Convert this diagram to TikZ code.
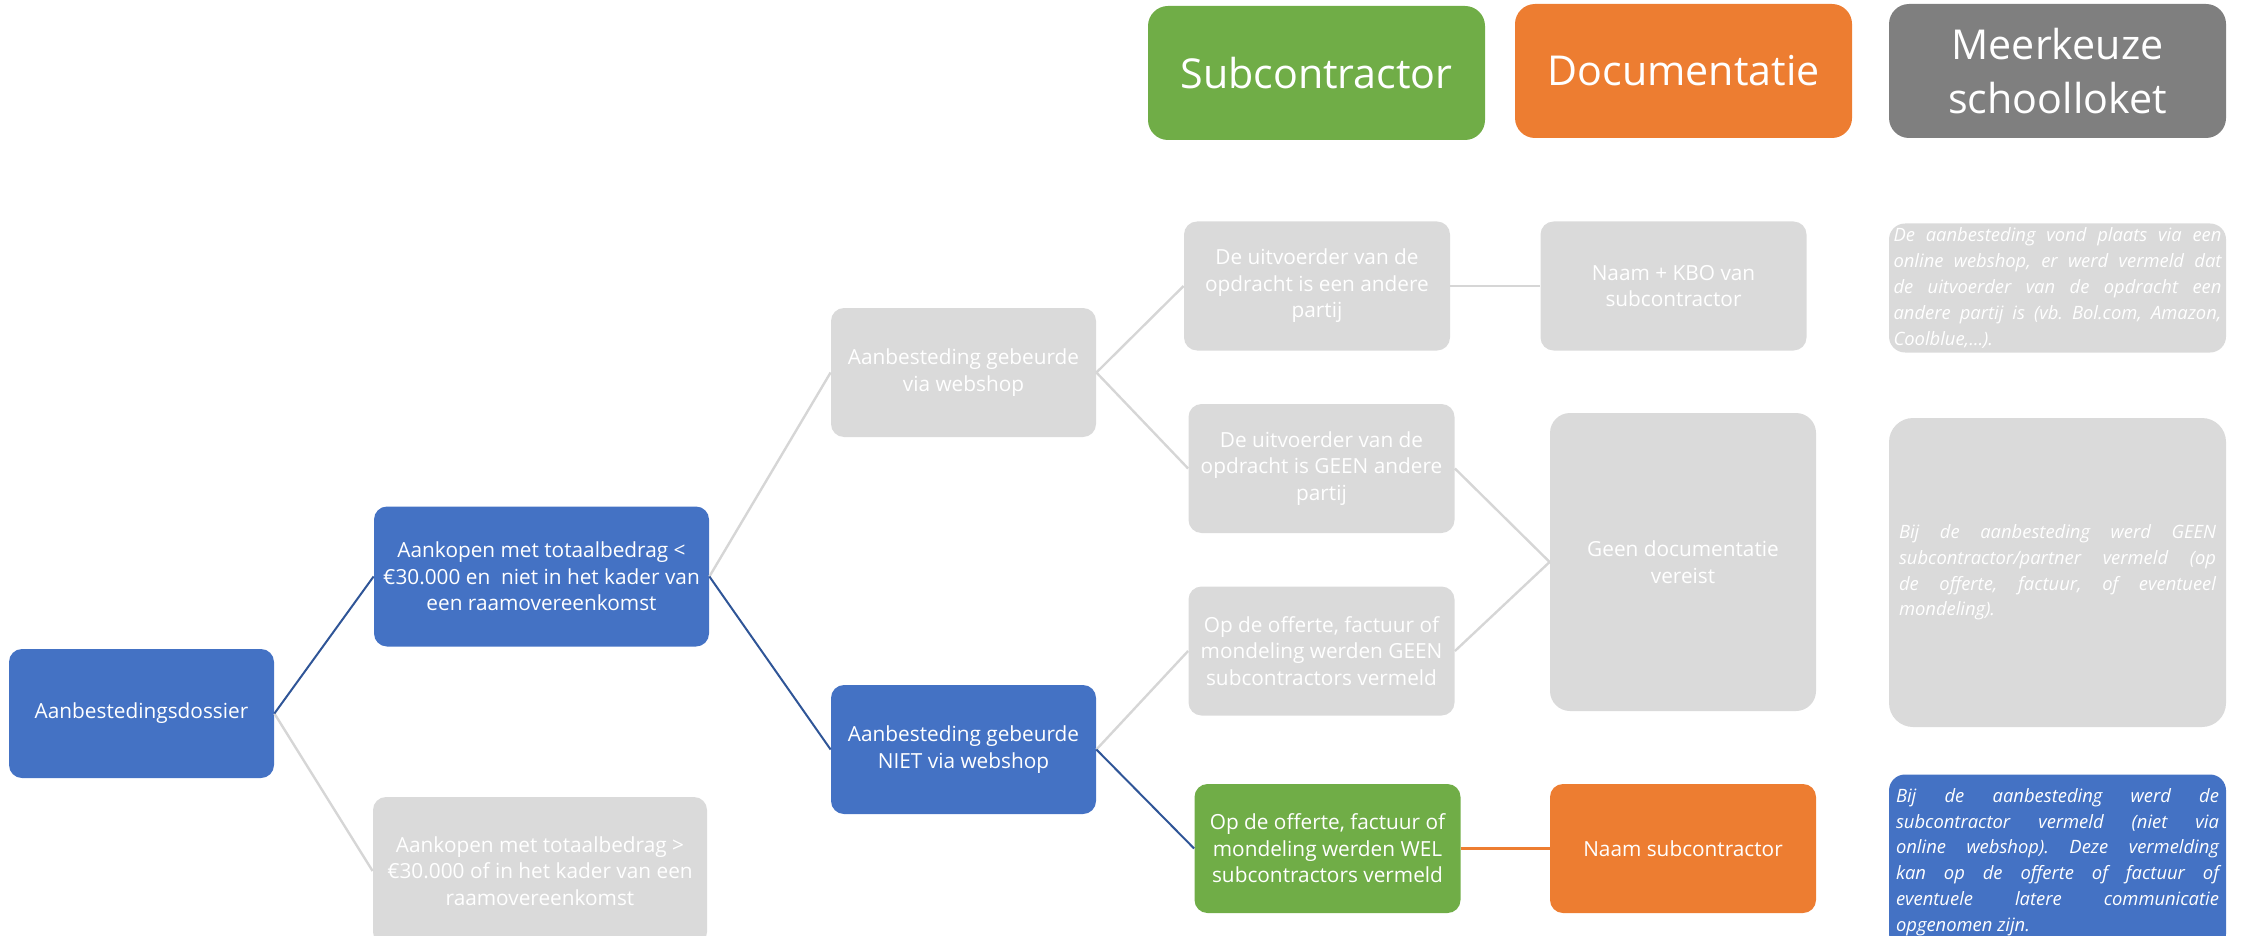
\documentclass[tikz,border=0pt]{standalone}
\usepackage{fontspec}
\setmainfont{Open Sans}
\newcommand\mkfont{\itshape\fontsize{9.2}{12.9}\selectfont\frenchspacing\tolerance=10000\relax\hyphenpenalty=10000\relax}
\definecolor{cblue}{HTML}{4472C4}
\definecolor{cgreen}{HTML}{70AD47}
\definecolor{corange}{HTML}{ED7D31}
\definecolor{cdgray}{HTML}{7F7F7F}
\definecolor{clgray}{HTML}{DADADA}
\definecolor{cline}{HTML}{2F5597}
\definecolor{cgline}{HTML}{D6D6D6}
\begin{document}
\begin{tikzpicture}[x=0.5pt,y=-0.5pt,
  box/.style={rounded corners=6.5pt, text=white, align=center, inner sep=0pt,
    minimum width=133pt, minimum height=64.5pt, font=\fontsize{10.4}{13.25}\selectfont},
  hdr/.style={rounded corners=10pt, text=white, align=center, inner sep=0pt,
    minimum width=168.5pt, minimum height=67pt, font=\fontsize{20.6}{27}\selectfont},
  mkbox/.style={rounded corners=8pt, text=white, align=justify, inner xsep=0pt, inner ysep=0pt,
    font=\mkfont},
  gline/.style={draw=cgline, line width=1.2pt},
  bline/.style={draw=cline, line width=1pt},
  oline/.style={draw=corange, line width=1.5pt}]
\useasboundingbox (0,0) rectangle (2247,936);
\clip (0,0) rectangle (2247,936);

% headers
\node[hdr, fill=cgreen] (h1) at (1316.5,73) {Subcontractor};
\node[hdr, fill=corange] (h2) at (1683.5,71) {Documentatie};
\node[hdr, fill=cdgray] (h3) at (2057.5,71) {Meerkeuze\\schoolloket};

% tree
\node[box, fill=cblue, minimum width=132.5pt] (dossier) at (141.5,713.5) {Aanbestedingsdossier};
\node[box, fill=cblue, minimum width=167.5pt, minimum height=70pt] (ak1) at (541.5,576.5)
  {Aankopen met totaalbedrag <\\€30.000 en\ \ niet in het kader van\\een raamovereenkomst};
\node[box, fill=clgray, minimum width=167pt, minimum height=74pt] (ak2) at (540,871)
  {Aankopen met totaalbedrag >\\€30.000 of in het kader van een\\raamovereenkomst};
\node[box, fill=clgray, minimum width=132.5pt] (web) at (963.5,372.5) {Aanbesteding gebeurde\\via webshop};
\node[box, fill=cblue, minimum width=132.5pt] (niet) at (963.5,749.5) {Aanbesteding gebeurde\\NIET via webshop};
\node[box, fill=clgray] (uit1) at (1317,286) {De uitvoerder van de\\opdracht is een andere\\partij};
\node[box, fill=clgray] (uit2) at (1321.5,468.5) {De uitvoerder van de\\opdracht is GEEN andere\\partij};
\node[box, fill=clgray] (off1) at (1321.5,651) {Op de offerte, factuur of\\mondeling werden GEEN\\subcontractors vermeld};
\node[box, fill=cgreen] (off2) at (1327.5,848.5) {Op de offerte, factuur of\\mondeling werden WEL\\subcontractors vermeld};
\node[box, fill=clgray] (kbo) at (1673.5,286) {Naam + KBO van\\subcontractor};
\node[box, fill=clgray, rounded corners=10pt, minimum height=149pt] (geen) at (1683,562) {Geen documentatie\\vereist};
\node[box, fill=corange] (naam) at (1683,848.5) {Naam subcontractor};

% meerkeuze
\node[mkbox, fill=clgray, text width=164pt, minimum width=168.5pt, minimum height=64.5pt] (mk1) at (2057.5,288)
  {De aanbesteding vond plaats via een\linebreak online webshop, er werd vermeld dat\linebreak de uitvoerder van de opdracht een\linebreak andere partij is (vb. Bol.com, Amazon,\linebreak Coolblue,\dots).};
\node[mkbox, fill=clgray, rounded corners=12pt, text width=158.5pt, minimum width=168.5pt, minimum height=154.5pt] (mk2) at (2057.5,572.5)
  {Bij de aanbesteding werd GEEN\linebreak subcontractor/partner vermeld (op\linebreak de offerte, factuur, of eventueel\linebreak mondeling).};
\node[mkbox, fill=cblue, text width=161.5pt, minimum width=168.5pt, minimum height=87.5pt] (mk3) at (2057.5,862)
  {Bij de aanbesteding werd de\linebreak subcontractor vermeld (niet via\linebreak online webshop). Deze vermelding\linebreak kan op de offerte of factuur of\linebreak eventuele latere communicatie\linebreak opgenomen zijn.};

% connectors
\draw[gline] (dossier.east) -- (ak2.west);
\draw[bline] (dossier.east) -- (ak1.west);
\draw[gline] (ak1.east) -- (web.west);
\draw[bline] (ak1.east) -- (niet.west);
\draw[gline] (web.east) -- (uit1.west);
\draw[gline] (web.east) -- (uit2.west);
\draw[gline] (niet.east) -- (off1.west);
\draw[bline] (niet.east) -- (off2.west);
\draw[gline] (uit1.east) -- (kbo.west);
\draw[gline] (uit2.east) -- (geen.west);
\draw[gline] (off1.east) -- (geen.west);
\draw[oline] (off2.east) -- (naam.west);
\end{tikzpicture}
\end{document}
